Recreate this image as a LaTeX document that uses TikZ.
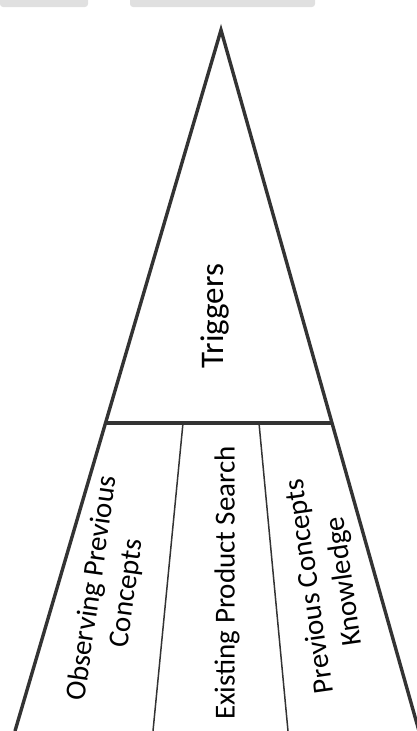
\documentclass[tikz,border=0pt]{standalone}
\usepackage{fontspec}
\setmainfont{Carlito}
\usetikzlibrary{calc}

\begin{document}
\begin{tikzpicture}[x=1pt,y=-1pt,
    edge/.style={line width=3.4pt,draw=black!80},
    divider/.style={line width=1.5pt,draw=black!80},
    vtext/.style={rotate=90,align=center,inner sep=0pt,
      font=\fontsize{29}{35}\selectfont}]
    \useasboundingbox (0,0) rectangle (417,731);
    % grey tabs along the top
    \fill[black!12,rounded corners=3pt](0,-6) rectangle (88,7);
    \fill[black!12,rounded corners=3pt](130,-6) rectangle (315,7);
    % outer triangle and the cross line
    \coordinate (apex) at (221,30);
    \coordinate (bl) at (15,731);
    \coordinate (br) at (419,731);
    \coordinate (cl) at ($(apex)!0.5606!(bl)$);
    \coordinate (cr) at ($(apex)!0.5606!(br)$);
    \draw[edge](bl)--(apex)--(br);
    \draw[edge](cl)--(cr);
    % the three columns below
    \coordinate (d1t) at (183,423);
    \coordinate (d1b) at (153,731);
    \coordinate (d2t) at (259,423);
    \coordinate (d2b) at (288,731);
    \draw[divider](d1t)--(d1b);
    \draw[divider](d2t)--(d2b);
    % texts, the outer two leaning with their column
    \node[vtext,font=\fontsize{33}{40}\selectfont](trig) at (215,316){Triggers};
    \node[vtext,rotate=-8](obs) at (110,591){Observing Previous\\Concepts};
    \node[vtext](search) at (227,583){Existing Product Search};
    \node[vtext,rotate=8](know) at (328,584){Previous Concepts\\Knowledge};
  \end{tikzpicture}
\end{document}
